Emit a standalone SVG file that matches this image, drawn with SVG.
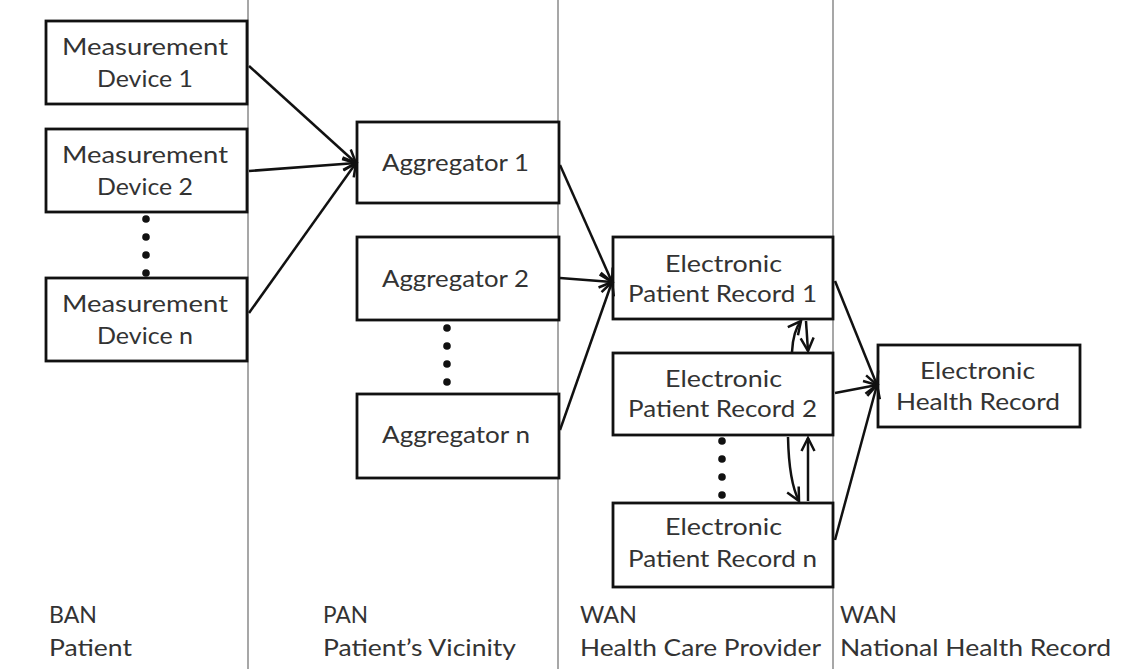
<svg xmlns="http://www.w3.org/2000/svg" width="1148" height="669" viewBox="0 0 1148 669">
  <defs>
    <style>
      .box { fill: #ffffff; stroke: #111111; stroke-width: 2.8; }
      .lbl { font-family: Lato, "Open Sans", "Liberation Sans", sans-serif; font-size: 23px; fill: #333333; text-anchor: start; }
      .div { stroke: #8a8a8a; stroke-width: 1.5; }
      .con { fill: none; stroke: #111111; stroke-width: 2.5; marker-end: url(#arr); }
      .dot { fill: #111111; }
    </style>
    <marker id="arr" markerUnits="userSpaceOnUse" markerWidth="18" markerHeight="16" refX="14" refY="8" orient="auto">
      <path d="M1,1.5 L14,8 L1,14.5" fill="none" stroke="#111111" stroke-width="2.5" stroke-linejoin="miter"/>
    </marker>
  </defs>
  <rect x="0" y="0" width="1148" height="669" fill="#ffffff"/>

  <g id="dividers">
    <line class="div" x1="248" y1="0" x2="248" y2="669"/>
    <line class="div" x1="558" y1="0" x2="558" y2="669"/>
    <line class="div" x1="833" y1="0" x2="833" y2="669"/>
  </g>

  <g id="md1">
    <rect class="box" x="46" y="21" width="201" height="83"/>
    <text class="lbl" x="62" y="55" textLength="166" lengthAdjust="spacingAndGlyphs">Measurement</text>
    <text class="lbl" x="97" y="87" textLength="96" lengthAdjust="spacingAndGlyphs">Device 1</text>
  </g>
  <g id="md2">
    <rect class="box" x="46" y="129" width="201" height="83"/>
    <text class="lbl" x="62" y="163" textLength="166" lengthAdjust="spacingAndGlyphs">Measurement</text>
    <text class="lbl" x="97" y="195" textLength="96" lengthAdjust="spacingAndGlyphs">Device 2</text>
  </g>
  <g id="md-dots">
    <circle class="dot" cx="146" cy="219" r="3.8"/>
    <circle class="dot" cx="146" cy="237" r="3.8"/>
    <circle class="dot" cx="146" cy="255" r="3.8"/>
    <circle class="dot" cx="146" cy="273" r="3.8"/>
  </g>
  <g id="mdn">
    <rect class="box" x="46" y="278" width="201" height="83"/>
    <text class="lbl" x="62" y="312" textLength="166" lengthAdjust="spacingAndGlyphs">Measurement</text>
    <text class="lbl" x="97" y="344" textLength="96" lengthAdjust="spacingAndGlyphs">Device n</text>
  </g>

  <g id="agg1">
    <rect class="box" x="357" y="122" width="202" height="81"/>
    <text class="lbl" x="382" y="171" textLength="147" lengthAdjust="spacingAndGlyphs">Aggregator 1</text>
  </g>
  <g id="agg2">
    <rect class="box" x="357" y="237" width="202" height="83"/>
    <text class="lbl" x="382" y="287" textLength="147" lengthAdjust="spacingAndGlyphs">Aggregator 2</text>
  </g>
  <g id="agg-dots">
    <circle class="dot" cx="447" cy="328" r="3.8"/>
    <circle class="dot" cx="447" cy="346" r="3.8"/>
    <circle class="dot" cx="447" cy="364" r="3.8"/>
    <circle class="dot" cx="447" cy="382" r="3.8"/>
  </g>
  <g id="aggn">
    <rect class="box" x="357" y="394" width="202" height="84"/>
    <text class="lbl" x="382" y="443" textLength="148" lengthAdjust="spacingAndGlyphs">Aggregator n</text>
  </g>

  <g id="epr1">
    <rect class="box" x="613" y="237" width="220" height="82"/>
    <text class="lbl" x="665" y="272" textLength="117" lengthAdjust="spacingAndGlyphs">Electronic</text>
    <text class="lbl" x="628" y="302" textLength="189" lengthAdjust="spacingAndGlyphs">Patient Record 1</text>
  </g>
  <g id="epr2">
    <rect class="box" x="613" y="353" width="220" height="82"/>
    <text class="lbl" x="665" y="387" textLength="117" lengthAdjust="spacingAndGlyphs">Electronic</text>
    <text class="lbl" x="628" y="417" textLength="189" lengthAdjust="spacingAndGlyphs">Patient Record 2</text>
  </g>
  <g id="epr-dots">
    <circle class="dot" cx="722" cy="441" r="3.8"/>
    <circle class="dot" cx="722" cy="459" r="3.8"/>
    <circle class="dot" cx="722" cy="477" r="3.8"/>
    <circle class="dot" cx="722" cy="495" r="3.8"/>
  </g>
  <g id="eprn">
    <rect class="box" x="613" y="503" width="220" height="84"/>
    <text class="lbl" x="665" y="535" textLength="117" lengthAdjust="spacingAndGlyphs">Electronic</text>
    <text class="lbl" x="628" y="567" textLength="189" lengthAdjust="spacingAndGlyphs">Patient Record n</text>
  </g>

  <g id="ehr">
    <rect class="box" x="878" y="345" width="202" height="82"/>
    <text class="lbl" x="920" y="379" textLength="115" lengthAdjust="spacingAndGlyphs">Electronic</text>
    <text class="lbl" x="896" y="410" textLength="164" lengthAdjust="spacingAndGlyphs">Health Record</text>
  </g>

  <g id="connectors">
    <line class="con" x1="249" y1="66" x2="356" y2="163"/>
    <line class="con" x1="249" y1="171" x2="356" y2="163"/>
    <line class="con" x1="249" y1="313" x2="356" y2="163"/>
    <line class="con" x1="560" y1="165" x2="612" y2="282"/>
    <line class="con" x1="560" y1="278" x2="612" y2="282"/>
    <line class="con" x1="560" y1="430" x2="612" y2="282"/>
    <line class="con" x1="835" y1="281" x2="877" y2="385"/>
    <line class="con" x1="835" y1="393" x2="877" y2="385"/>
    <line class="con" x1="835" y1="540" x2="877" y2="385"/>
    <path class="con" d="M792,352 Q793,331 801,321"/>
    <path class="con" d="M806,321 L808,351"/>
    <path class="con" d="M788,437 Q789,482 799,501"/>
    <path class="con" d="M808,501 L808,438"/>
  </g>

  <g id="zone-labels">
    <text class="lbl" x="49" y="623" textLength="48" lengthAdjust="spacingAndGlyphs">BAN</text>
    <text class="lbl" x="49" y="656" textLength="83" lengthAdjust="spacingAndGlyphs">Patient</text>
    <text class="lbl" x="323" y="623" textLength="45" lengthAdjust="spacingAndGlyphs">PAN</text>
    <text class="lbl" x="323" y="656" textLength="193" lengthAdjust="spacingAndGlyphs">Patient’s Vicinity</text>
    <text class="lbl" x="580" y="623" textLength="57" lengthAdjust="spacingAndGlyphs">WAN</text>
    <text class="lbl" x="580" y="656" textLength="241" lengthAdjust="spacingAndGlyphs">Health Care Provider</text>
    <text class="lbl" x="840" y="623" textLength="57" lengthAdjust="spacingAndGlyphs">WAN</text>
    <text class="lbl" x="840" y="656" textLength="271" lengthAdjust="spacingAndGlyphs">National Health Record</text>
  </g>
</svg>
